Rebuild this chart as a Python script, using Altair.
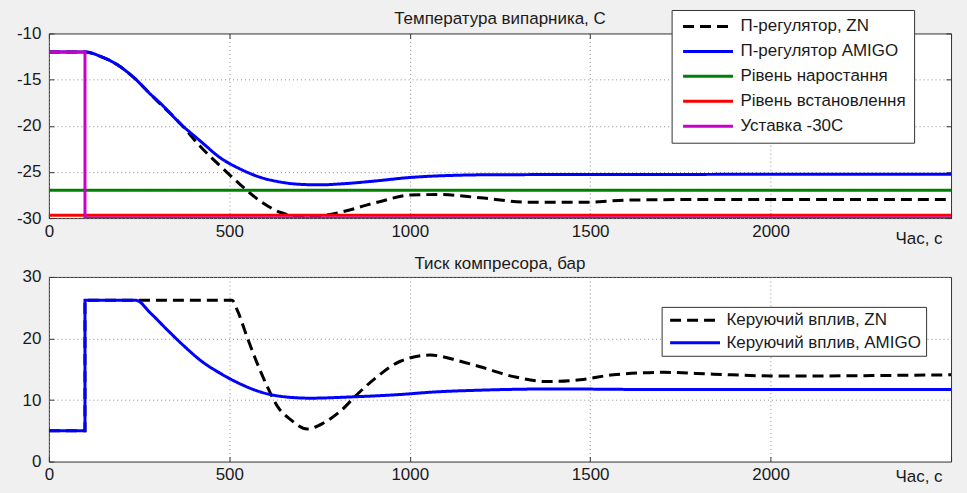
import altair as alt
import pandas as pd

FONT = "Liberation Sans"
TXT = "#1a1a1a"
FRAME = "#333333"
GRID = "#8c8c8c"

# ---------------- data: top panel (temperature) ----------------
TOP_SERIES = ["П-регулятор, ZN", "П-регулятор AMIGO", "Рівень наростання",
              "Рівень встановлення", "Уставка -30C"]
TOP_COLORS = ["#000000", "#0000ff", "#008000", "#ff0000", "#c800c8"]
TOP_DASH = [[11, 6], [1, 0], [1, 0], [1, 0], [1, 0]]

T_ZN_TEMP = [0, 100, 144, 190, 236, 282, 310, 340, 365, 421, 476, 531, 587, 642,
             697, 740, 780, 836, 880, 919, 1002, 1085, 1195, 1334, 1472, 1610, 1749, 2500]
V_ZN_TEMP = [-12, -12, -12.5, -13.4, -14.8, -16.6, -17.7, -18.8, -19.8, -22.3, -24.4,
             -26.4, -28.2, -29.4, -29.8, -29.8, -29.6, -29.1, -28.6, -28.2, -27.5,
             -27.45, -27.8, -28.3, -28.3, -28.05, -28.0, -28.0]

T_AM_TEMP = [0, 100, 144, 190, 236, 282, 310, 365, 421, 476, 531, 587, 642, 697, 753,
             808, 900, 1002, 1100, 1250, 2500]
V_AM_TEMP = [-12, -12, -12.5, -13.4, -14.8, -16.6, -17.6, -19.8, -21.7, -23.5, -24.7,
             -25.6, -26.1, -26.35, -26.4, -26.3, -26.0, -25.6, -25.4, -25.3, -25.25]

T_RISE = [0, 2500]
V_RISE = [-27, -27]
T_SETTLE = [0, 2500]
V_SETTLE = [-29.7, -29.7]
T_SET = [0, 100, 100, 2500]
V_SET = [-12, -12, -30, -30]

TOP_Y_TICKS = [-30, -25, -20, -15, -10]

# ---------------- data: bottom panel (pressure) ----------------
BOT_SERIES = ["Керуючий вплив, ZN", "Керуючий вплив, AMIGO"]
BOT_COLORS = ["#000000", "#0000ff"]
BOT_DASH = [[11, 6], [1, 0]]

T_ZN_P = [0, 100, 100, 508, 522, 550, 577, 605, 633, 670, 716, 762, 808, 854, 910, 974,
          1057, 1140, 1195, 1288, 1380, 1472, 1564, 1703, 1841, 2025, 2500]
V_ZN_P = [5, 5, 26.2, 26.2, 24.6, 20.1, 16.0, 12.2, 9.0, 6.8, 5.3, 6.3, 8.2, 10.9, 13.8,
          16.3, 17.3, 16.3, 15.4, 13.8, 13.0, 13.3, 14.1, 14.5, 14.2, 13.9, 14.1]

T_AM_P = [0, 100, 100, 241, 282, 328, 374, 421, 476, 531, 587, 642, 725, 836, 974, 1066,
          1195, 1400, 1700, 2500]
V_AM_P = [5, 5, 26.2, 26.2, 24.1, 21.4, 18.8, 16.4, 14.3, 12.6, 11.3, 10.6, 10.3, 10.5,
          10.9, 11.3, 11.6, 11.8, 11.7, 11.7]

BOT_Y_TICKS = [0, 10, 20, 30]

X_TICKS = [0, 500, 1000, 1500, 2000]
X_TICKS_ALL = [0, 500, 1000, 1500, 2000, 2500]
X_TITLE = "Час, с"


def frame(name, ts, vs):
    return pd.DataFrame({"s": name, "t": ts, "v": vs, "i": list(range(len(ts)))})


top_df = pd.concat([
    frame(TOP_SERIES[0], T_ZN_TEMP, V_ZN_TEMP),
    frame(TOP_SERIES[1], T_AM_TEMP, V_AM_TEMP),
    frame(TOP_SERIES[2], T_RISE, V_RISE),
    frame(TOP_SERIES[3], T_SETTLE, V_SETTLE),
    frame(TOP_SERIES[4], T_SET, V_SET),
], ignore_index=True)

bot_df = pd.concat([
    frame(BOT_SERIES[0], T_ZN_P, V_ZN_P),
    frame(BOT_SERIES[1], T_AM_P, V_AM_P),
], ignore_index=True)

W, H = 904, 185
XS = alt.Scale(domain=[0, 2500], nice=False, zero=False)


def main_x(title_y):
    return alt.Axis(orient="bottom", values=X_TICKS, labelExpr="'' + datum.value",
                    labelFont=FONT, labelFontSize=17, labelColor=TXT, labelPadding=5,
                    labelFlush=False, labelOverlap=False, labelBound=False,
                    ticks=False, domain=False, grid=True, gridColor=GRID,
                    gridDash=[1, 3], gridWidth=1,
                    title=X_TITLE, titleFont=FONT, titleFontSize=17,
                    titleFontWeight="normal", titleColor=TXT, titleAlign="right",
                    titleBaseline="middle", titleX=895, titleY=title_y)


def main_y(values):
    return alt.Axis(orient="left", values=values, labelExpr="'' + datum.value",
                    labelFont=FONT, labelFontSize=17, labelColor=TXT, labelPadding=8,
                    labelFlush=False, labelOverlap=False, labelBound=False,
                    ticks=False, domain=False, grid=True, gridColor=GRID,
                    gridDash=[1, 3], gridWidth=1, title=None)


def tick_axis(orient, offset, values):
    return alt.Axis(orient=orient, offset=offset, values=values, labels=False,
                    domain=False, grid=False, ticks=True, tickSize=5,
                    tickColor=FRAME, tickWidth=1, title=None)


def legend(x, y, pad, rowpad, label_offset):
    # custom stroke path: length = 5 * sqrt(symbolSize) = 50 px, row height stays small
    return alt.Legend(orient="none", legendX=x, legendY=y, title=None, padding=pad,
                      rowPadding=rowpad, fillColor="white", strokeColor=FRAME,
                      symbolType="M-5,0H5", symbolSize=100, symbolStrokeWidth=3,
                      symbolOffset=20, labelOffset=label_offset,
                      labelFont=FONT, labelFontSize=17, labelColor=TXT,
                      labelLimit=0, cornerRadius=0)


def panel(df, names, colors, dashes, yvals, title_text, title_offset, leg, x_title_y):
    ys = alt.Scale(domain=[yvals[0], yvals[-1]], nice=False, zero=False)
    xaxes = [main_x(x_title_y), tick_axis("top", -H, X_TICKS_ALL),
             tick_axis("bottom", -H, X_TICKS_ALL)]
    yaxes = [main_y(yvals), tick_axis("right", -W, yvals), tick_axis("left", -W, yvals)]
    layers = []
    for k, name in enumerate(names):
        xa = xaxes[k] if k < len(xaxes) else None
        ya = yaxes[k] if k < len(yaxes) else None
        layers.append(
            alt.Chart(df).transform_filter(alt.datum.s == name)
            .mark_line(strokeWidth=3, clip=True, interpolate="monotone")
            .encode(
                x=alt.X("t:Q", scale=XS, axis=xa),
                y=alt.Y("v:Q", scale=ys, axis=ya),
                color=alt.Color("s:N", scale=alt.Scale(domain=names, range=colors), legend=leg),
                strokeDash=alt.StrokeDash("s:N", scale=alt.Scale(domain=names, range=dashes), legend=leg),
                order=alt.Order("i:Q"),
            )
        )
    return alt.layer(*layers).resolve_axis(x="independent", y="independent").properties(
        width=W, height=H,
        title=alt.Title(title_text, font=FONT, fontSize=17, fontWeight="normal", color=TXT,
                        anchor="middle", frame="group", offset=title_offset),
    )


top = panel(top_df, TOP_SERIES, TOP_COLORS, TOP_DASH, TOP_Y_TICKS,
            "Температура випарника, С", -18.6, legend(624, -23.5, 8, 7, 24), 20)
bottom = panel(bot_df, BOT_SERIES, BOT_COLORS, BOT_DASH, BOT_Y_TICKS,
               "Тиск компресора, бар", -5, legend(614, 30, 5, 4.5, 23), 15)

chart = (
    alt.vconcat(top, bottom, spacing=7)
    .resolve_scale(x="independent", y="independent", color="independent",
                   strokeDash="independent")
    .properties(background="#f0f0f0",
                padding={"left": 15, "right": 15, "top": 8, "bottom": 11})
    .configure_view(stroke=FRAME, strokeWidth=1, fill="white")
)

chart.save("out.html", embed_options={"renderer": "svg", "actions": False})
